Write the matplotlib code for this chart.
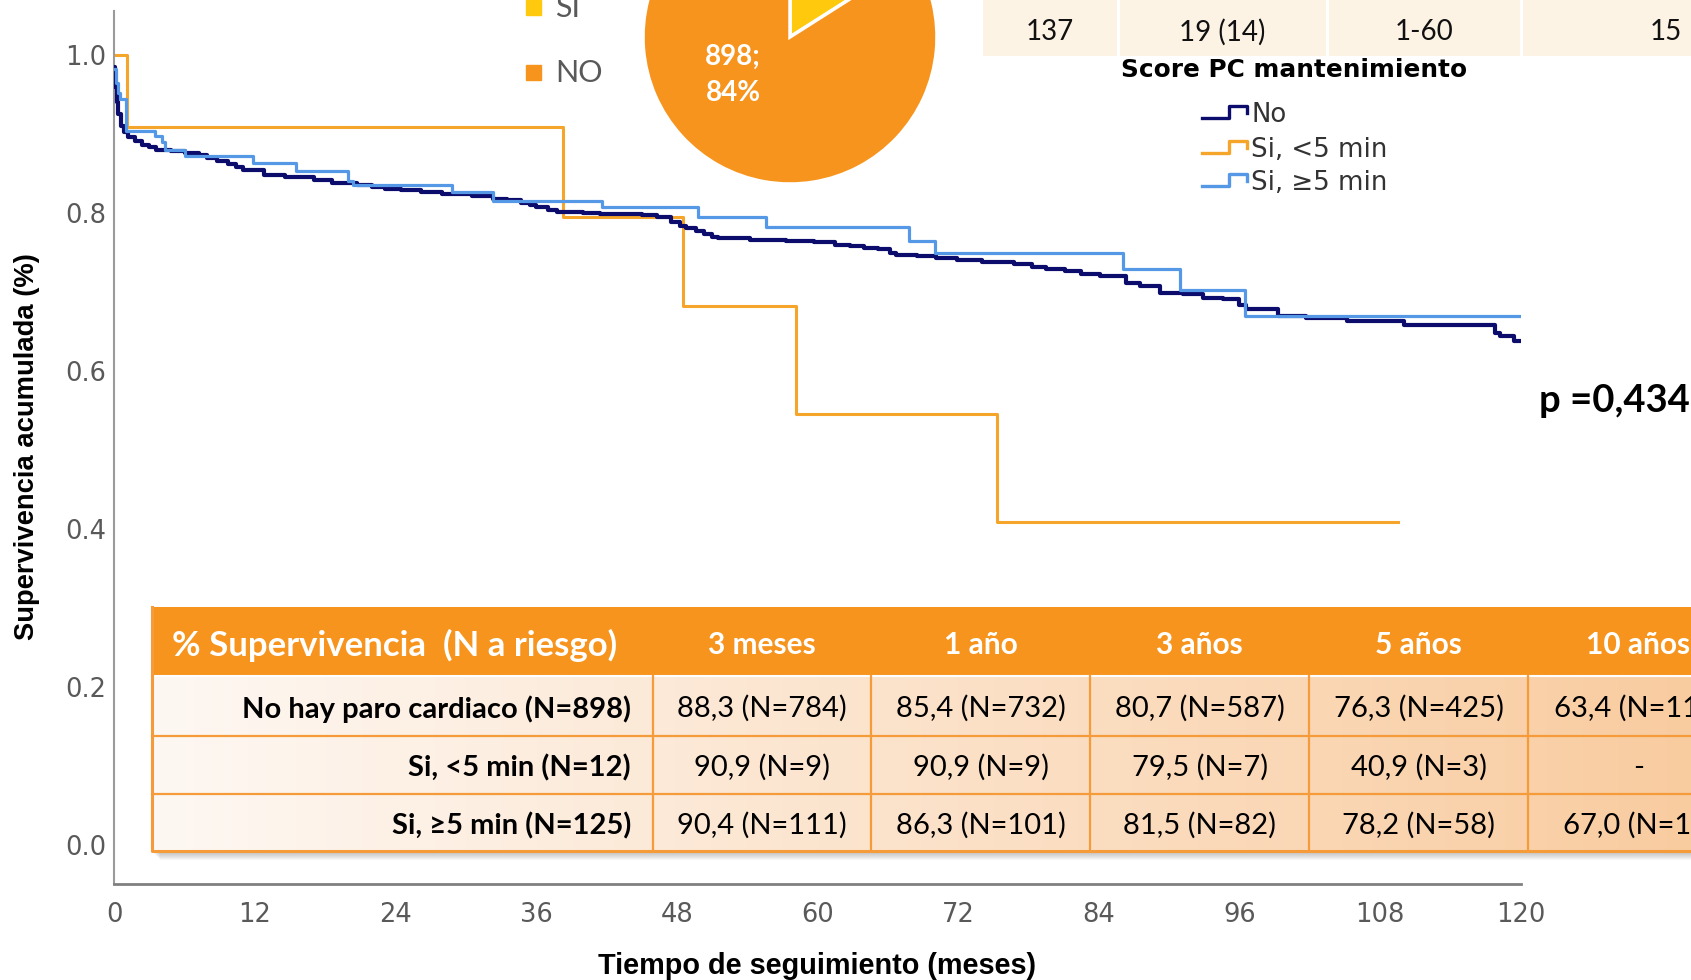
import matplotlib
matplotlib.use("Agg")
import matplotlib.pyplot as plt
import numpy as np
from matplotlib.patches import Rectangle
from matplotlib.lines import Line2D

W, H = 1691, 980

# Kaplan-Meier estimates by maintenance CPR score (months, cumulative survival)
no_months = [0, 0.1, 0.2, 0.35, 0.55, 0.8, 1.2, 1.8, 2.4, 3.0, 3.6, 4.8, 6.0, 7.2, 7.9,
             8.8, 9.7, 10.4, 11.0, 12.0, 12.8, 14.6, 17.0, 18.6, 20.7, 22.0, 23.1, 24.5,
             26.2, 28.0, 30.5, 32.3, 33.5, 34.7, 35.5, 36.0, 37.0, 37.8, 40.0, 41.4, 45.0,
             46.3, 47.5, 48.3, 48.8, 49.6, 50.3, 51.0, 51.5, 54.2, 57.3, 59.7, 61.5, 62.8,
             64.0, 65.2, 66.2, 66.7, 68.5, 70.1, 71.9, 74.0, 76.8, 78.3, 79.5, 81.1, 82.5,
             84.1, 86.3, 87.5, 89.2, 91.2, 92.9, 94.6, 96.0, 96.6, 99.3, 101.7, 105.2,
             110.0, 117.8, 118.2, 119.4, 120.0]
no_surv = [0.985, 0.960, 0.940, 0.925, 0.910, 0.902, 0.896, 0.891, 0.886, 0.883, 0.880,
           0.878, 0.876, 0.873, 0.870, 0.866, 0.862, 0.858, 0.855, 0.854, 0.848, 0.845,
           0.842, 0.838, 0.836, 0.833, 0.831, 0.829, 0.827, 0.824, 0.821, 0.818, 0.816,
           0.813, 0.810, 0.807, 0.804, 0.801, 0.800, 0.799, 0.797, 0.795, 0.789, 0.784,
           0.781, 0.777, 0.774, 0.770, 0.768, 0.766, 0.764, 0.763, 0.760, 0.758, 0.756,
           0.754, 0.750, 0.747, 0.745, 0.743, 0.740, 0.738, 0.736, 0.732, 0.729, 0.726,
           0.723, 0.720, 0.711, 0.707, 0.699, 0.697, 0.693, 0.691, 0.684, 0.678, 0.669,
           0.667, 0.663, 0.658, 0.648, 0.644, 0.638, 0.638]

lt5_months = [0, 1.1, 38.3, 48.5, 58.2, 75.3, 109.5]
lt5_surv = [1.0, 0.909, 0.795, 0.682, 0.545, 0.409, 0.409]

ge5_months = [0, 0.15, 0.3, 0.45, 1.0, 3.5, 4.1, 4.3, 6.0, 11.8, 15.5, 19.9, 20.4, 28.8,
              32.3, 41.6, 49.8, 55.6, 67.8, 70.0, 86.1, 90.9, 96.5, 120.0]
ge5_surv = [0.982, 0.965, 0.952, 0.944, 0.904, 0.898, 0.890, 0.880, 0.872, 0.863, 0.853,
            0.840, 0.836, 0.826, 0.815, 0.807, 0.795, 0.782, 0.764, 0.750, 0.729, 0.703,
            0.670, 0.670]

legend_title = "Score PC mantenimiento"
legend_labels = ["No", "Si, <5 min", "Si, \u22655 min"]

# cardiac arrest yes / no
pie_labels = ["SI", "NO"]
pie_counts = [171, 898]

top_cells = ["137", "19 (14)", "1-60", "15"]
p_text = "p =0,434"

table_title = "% Supervivencia  (N a riesgo)"
table_cols = ["3 meses", "1 año", "3 años", "5 años", "10 años"]
table_rows = ["No hay paro cardiaco (N=898)", "Si, <5 min (N=12)", "Si, \u22655 min (N=125)"]
table_cells = [
    ["88,3 (N=784)", "85,4 (N=732)", "80,7 (N=587)", "76,3 (N=425)", "63,4 (N=11"],
    ["90,9 (N=9)", "90,9 (N=9)", "79,5 (N=7)", "40,9 (N=3)", "-"],
    ["90,4 (N=111)", "86,3 (N=101)", "81,5 (N=82)", "78,2 (N=58)", "67,0 (N=1"],
]

NAVY = "#0c0c6c"
ORANGE_LINE = "#f5a52a"
BLUE = "#5599e6"
ORANGE = "#f7941d"
YELLOW = "#ffc90e"
CREAM = "#fdf3e4"
GRID = "#f59b3a"
CALIBRI = "Lato"

plt.rcParams["font.family"] = "DejaVu Sans"
fig = plt.figure(figsize=(W / 100, H / 100), dpi=100)


def fx(x):
    return x / W


def fy(y):
    return 1 - y / H


# survival curves
ax = fig.add_axes([fx(114.3), fy(884), (1520.7 - 114.3) / W, (884 - 11) / H])
ax.step(lt5_months, lt5_surv, where="post", color=ORANGE_LINE, lw=2.2, zorder=2)
ax.step(no_months, no_surv, where="post", color=NAVY, lw=3.0, zorder=3)
ax.step(ge5_months, ge5_surv, where="post", color=BLUE, lw=2.3, zorder=4)
ax.set_xlim(0, 120)
ax.set_ylim(-39 / 790, 834 / 790)
ax.set_xticks(np.arange(0, 121, 12))
yt = np.arange(0, 1.01, 0.2)
ax.set_yticks(yt)
ax.set_yticklabels([f"{v:.1f}" for v in yt])
ax.tick_params(length=0, labelsize=18.5, labelcolor="#595959")
ax.tick_params(axis="x", pad=13)
ax.tick_params(axis="y", pad=6)
ax.spines["top"].set_visible(False)
ax.spines["right"].set_visible(False)
ax.spines["left"].set_color("#9a9a9a")
ax.spines["left"].set_linewidth(1.5)
ax.spines["bottom"].set_color("#808080")
ax.spines["bottom"].set_linewidth(2)

fig.text(fx(817), fy(966), "Tiempo de seguimiento (meses)", ha="center", va="center",
         fontsize=20.8, fontweight="bold", family="Liberation Sans")
fig.text(fx(27), fy(447), "Supervivencia acumulada (%)", ha="center", va="center",
         rotation=90, fontsize=19.7, fontweight="bold", family="Liberation Sans")

# pie
r = 147 * 1.05
pax = fig.add_axes([fx(790 - r), fy(37 + r), 2 * r / W, 2 * r / H], zorder=5)
pax.pie(pie_counts, colors=[YELLOW, ORANGE], startangle=90, counterclock=False,
        wedgeprops=dict(edgecolor="white", linewidth=2.5))
pax.set_xlim(-1.05, 1.05)
pax.set_ylim(-1.05, 1.05)
pax.set_aspect("auto")
pax.axis("off")

# overlay in pixel coordinates
ov = fig.add_axes([0, 0, 1, 1], zorder=10)
ov.set_xlim(0, W)
ov.set_ylim(H, 0)
ov.axis("off")

pct = round(pie_counts[1] / sum(pie_counts) * 100)
ov.text(733, 75, f"{pie_counts[1]};\n{pct}%", ha="center", va="center", color="white",
        fontsize=20, fontweight="bold", family=CALIBRI, linespacing=1.45)

# pie legend
for (lab, col, yc) in zip(pie_labels, [YELLOW, ORANGE], [8, 73]):
    ov.add_patch(Rectangle((526, yc - 7.5), 15, 15, color=col))
    ov.text(555, yc, lab, ha="left", va="center", fontsize=22, color="#595959",
            family=CALIBRI)

# cream summary row
edges = [981, 1118, 1327, 1521, 1780]
for i, txt in enumerate(top_cells):
    x0, x1 = edges[i], edges[i + 1]
    ov.add_patch(Rectangle((x0 + 1.5, -5), x1 - x0 - 3, 61, color=CREAM, lw=0))
    if i < len(top_cells) - 1:
        ov.text((x0 + x1) / 2, 32, txt, ha="center", va="center", fontsize=20,
                family=CALIBRI, color="#111111")
    else:
        ov.text(1650, 32, txt, ha="left", va="center", fontsize=20,
                family=CALIBRI, color="#111111")

# curve legend
ov.text(1294, 70, legend_title, ha="center", va="center", fontsize=17.8,
        fontweight="bold", color="black")
for lab, col, yc in zip(legend_labels, [NAVY, ORANGE_LINE, BLUE], [115, 150, 183]):
    ov.add_line(Line2D([1202, 1229, 1229, 1247, 1247],
                       [yc + 3, yc + 3, yc - 9, yc - 9, yc - 2],
                       color=col, lw=2.4))
    ov.text(1251, yc, lab, ha="left", va="center", fontsize=18.7, color="#333333")

ov.text(1539, 401, p_text, ha="left", va="center", fontsize=27.5, fontweight="bold",
        family=CALIBRI, color="black")

# survival table
tx0, ty0, ty_head = 152, 607, 676
row_edges = [676, 735.5, 793.8, 851]
col_edges = [152, 652.5, 871.4, 1090.4, 1309.3, 1528.2, 1747]
tx1 = 1780

for k in range(1, 9):
    ov.add_patch(Rectangle((tx0 + k, ty0 + k + 1), tx1 - tx0, row_edges[-1] - ty0,
                           color="black", alpha=0.03, lw=0))

ov.add_patch(Rectangle((tx0, ty0), tx1 - tx0, ty_head - ty0, color=ORANGE, lw=0))
grad = np.linspace(0, 1, 256)
c0 = np.array([254, 248, 243]) / 255
c1 = np.array([249, 204, 160]) / 255
img = (c0[None, :] * (1 - grad[:, None]) + c1[None, :] * grad[:, None])[None, :, :]
ov.imshow(img, extent=(tx0, W, row_edges[-1], ty_head), aspect="auto", zorder=1)
ov.set_xlim(0, W)
ov.set_ylim(H, 0)

ov.plot([tx0, tx1], [ty_head, ty_head], color="white", lw=1.5, zorder=2)
for ye in row_edges[1:-1]:
    ov.plot([tx0, tx1], [ye, ye], color=GRID, lw=1.6, zorder=2)
for xe in col_edges[1:-1]:
    ov.plot([xe, xe], [ty_head, row_edges[-1]], color=GRID, lw=1.6, zorder=2)
ov.plot([tx0, tx0, tx1], [ty0, row_edges[-1], row_edges[-1]], color=GRID, lw=2.2, zorder=2)

ov.text(tx0 + 20, 645, table_title, ha="left", va="center", fontsize=25,
        fontweight="bold", color="white", family=CALIBRI, zorder=3)
centers = [(col_edges[i] + col_edges[i + 1]) / 2 for i in range(1, 6)]
for cx, lab in zip(centers, table_cols):
    ov.text(cx, 645, lab, ha="center", va="center", fontsize=21.5, fontweight="bold",
            color="white", family=CALIBRI, zorder=3)

last_col_x = [1554, 1633, 1563]
for i, (rlab, cells) in enumerate(zip(table_rows, table_cells)):
    yc = (row_edges[i] + row_edges[i + 1]) / 2 + 3
    ov.text(631, yc, rlab, ha="right", va="center", fontsize=21, fontweight="bold",
            color="black", family=CALIBRI, zorder=3)
    for j, txt in enumerate(cells):
        if j < 4:
            ov.text(centers[j], yc, txt, ha="center", va="center", fontsize=21,
                    color="black", family=CALIBRI, zorder=3)
        else:
            ov.text(last_col_x[i], yc, txt, ha="left", va="center", fontsize=21,
                    color="black", family=CALIBRI, zorder=3)

fig.savefig("out.png", dpi=100)
